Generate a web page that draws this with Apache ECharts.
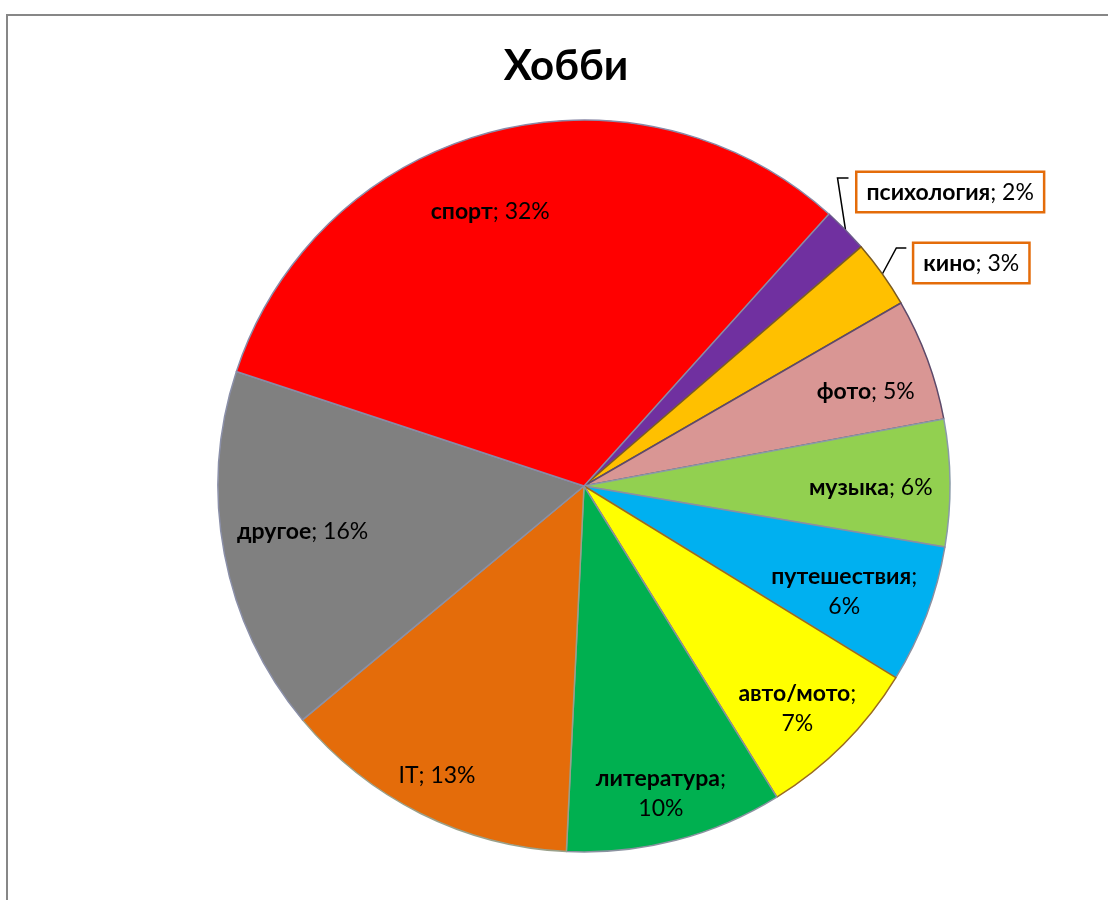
<!DOCTYPE html>
<html><head><meta charset="utf-8">
<script src="https://cdn.jsdelivr.net/npm/echarts@6/dist/echarts.min.js"></script>
<style>
html,body{margin:0;padding:0;background:#fff;overflow:hidden;}
#frame{position:absolute;left:6px;top:14px;width:1300px;height:1000px;border:2px solid #878787;box-sizing:border-box;}
#chart{position:absolute;left:0;top:0;width:1108px;height:900px;}
</style></head><body>
<div id="frame"></div><div id="chart"></div>
<script>
// ---- data ----
const chartTitle = 'Хобби';
const categories = ['психология','кино','фото','музыка','путешествия','авто/мото','литература','IT','другое','спорт'];
const shares = [2.0, 3.0, 5.4, 5.6, 6.1, 7.4, 9.6, 13.2, 16.1, 31.6];
const wrappedLabels = ['путешествия','авто/мото','литература'];
const calloutLabels = ['психология','кино'];
const plainLabels = ['IT'];

// ---- styles ----
const sliceColors = ['#7030A0','#FFC000','#D99694','#92D050','#00B0F0','#FFFF00','#00B050','#E46C0A','#808080','#FF0000'];
const edgeColors = ['#6a5a8a','#7a5a20','#5d4a6a','#8a9aa8','#8a8fa0','#9a6a20','#8a92a0','#9aa08a','#8a8fa8','#8a8aa8'];
// small label nudges (best-fit placement of the original), in px relative to the library's inside position
const labelNudge = {
  'фото': [-6, 12], 'музыка': [-20, 4], 'путешествия': [-27, -2], 'авто/мото': [-4, 6],
  'литература': [0, 11], 'IT': [-10, 15], 'другое': [20, -12], 'спорт': [-15, 22]
};
const FONT = 'Lato';
const FS = 23;
const R = 366, CX = 584, CY = 486, START = 48;

function fmt(p) {
  const pct = Math.round(p.percent) + '%';
  const nm = (plainLabels.indexOf(p.name) >= 0 ? '{n|' : '{b|') + p.name + '}';
  if (wrappedLabels.indexOf(p.name) >= 0) return nm + '{n|;}\n{n|' + pct + '}';
  return nm + '{n|; ' + pct + '}';
}
const rich = {
  b: {fontFamily: FONT, fontWeight: 'bold', fontSize: FS, color: '#000', lineHeight: 30},
  n: {fontFamily: FONT, fontWeight: 'normal', fontSize: FS, color: '#000', lineHeight: 30}
};

const mainData = categories.map((c, i) => {
  const isCallout = calloutLabels.indexOf(c) >= 0;
  return {
    name: c, value: shares[i],
    itemStyle: {color: sliceColors[i], borderColor: edgeColors[i], borderWidth: 1.5},
    label: {show: isCallout},
    labelLine: {show: isCallout}
  };
});
const labelData = categories.map((c, i) => ({
  name: c, value: shares[i],
  itemStyle: {color: 'rgba(0,0,0,0)', borderWidth: 0},
  label: {show: calloutLabels.indexOf(c) < 0}
}));

const chart = echarts.init(document.getElementById('chart'), null, {renderer: 'canvas'});
chart.setOption({
  animation: false,
  title: {
    text: chartTitle, left: 561, top: 40, textAlign: 'center',
    textStyle: {fontFamily: FONT, fontWeight: 'bold', fontSize: 42, color: '#000'}
  },
  series: [
    {
      type: 'pie', center: [CX, CY], radius: [0, R], startAngle: START, clockwise: true,
      avoidLabelOverlap: false, silent: true,
      data: mainData,
      label: {
        position: 'outside', formatter: fmt, rich: rich,
        backgroundColor: '#fff', borderColor: '#E46C0A', borderWidth: 2.5,
        padding: [5, 9, 3, 9]
      },
      labelLine: {show: true, length: 15, length2: 10, smooth: false, lineStyle: {color: '#000', width: 1.5}},
      labelLayout: function (params) {
        const name = categories[params.dataIndex];
        const pts = params.labelLinePoints;
        if (!pts) return {};
        const p0 = pts[0];
        if (name === 'психология') {
          return {
            x: p0[0] + 12, y: p0[1] - 38, align: 'left', verticalAlign: 'middle',
            labelLinePoints: [p0, [p0[0] - 8, p0[1] - 52], [p0[0] + 3, p0[1] - 52]]
          };
        }
        if (name === 'кино') {
          return {
            x: p0[0] + 32, y: p0[1] - 11, align: 'left', verticalAlign: 'middle',
            labelLinePoints: [p0, [p0[0] + 14, p0[1] - 26], [p0[0] + 24, p0[1] - 26]]
          };
        }
        return {};
      }
    },
    {
      type: 'pie', center: [CX, CY], radius: [R * 0.66, R], startAngle: START, clockwise: true,
      avoidLabelOverlap: false, silent: true,
      data: labelData,
      label: {position: 'inside', formatter: fmt, rich: rich, align: 'center'},
      labelLine: {show: false},
      labelLayout: function (params) {
        const d = labelNudge[categories[params.dataIndex]];
        return d ? {dx: d[0], dy: d[1]} : {};
      }
    }
  ]
});
</script>
</body></html>
